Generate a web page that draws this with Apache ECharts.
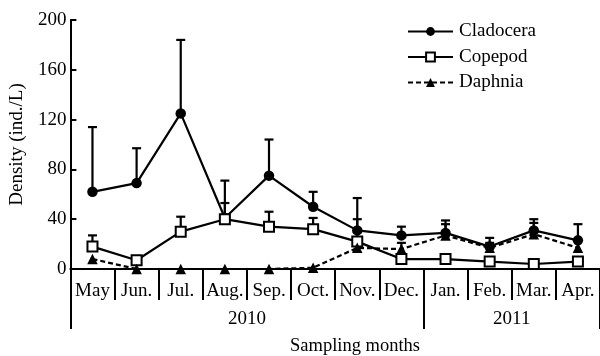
<!DOCTYPE html>
<html>
<head>
<meta charset="utf-8">
<script src="https://cdn.jsdelivr.net/npm/echarts@6/dist/echarts.min.js"></script>
<style>html,body{margin:0;padding:0;background:#fff;}#c{width:600px;height:356px;}</style>
</head>
<body>
<div id="c"></div>
<script>
const months = ['May','Jun.','Jul.','Aug.','Sep.','Oct.','Nov.','Dec.','Jan.','Feb.','Mar.','Apr.'];
const years = ['2010','2011'];
const monthsPerYear = [8, 4];
const yTicks = [0, 40, 80, 120, 160, 200];

const cladocera      = [62, 69, 125, 41, 75, 50, 31, 27, 29, 18, 31, 23];
const cladoceraUpper = [114, 97, 184, 71, 104, 62, 57, 34, 39, 25, 40, 36];
const copepod        = [18, 7, 30, 40, 34, 32, 22, 8, 8, 6, 4, 6];
const copepodUpper   = [27, null, 42, 53, 46, 41, 40, null, null, null, null, null];
const daphnia        = [8, 0, 0, 0, 0, 1, 17, 16, 27, 17, 28, 17];
const daphniaUpper   = [null, null, null, null, null, null, null, 21, 36, 21, 37, null];

const FONT = 'Liberation Serif';
const FS = 19;

// year boundaries / centres derived from month counts
const yearBounds = [0];
const yearCentres = [];
monthsPerYear.forEach((n) => {
  const s = yearBounds[yearBounds.length - 1];
  yearCentres.push(s + n / 2);
  yearBounds.push(s + n);
});

function errData(mean, upper) {
  const out = [];
  mean.forEach((m, i) => { if (upper[i] != null) out.push([i, m, upper[i]]); });
  return out;
}

function errSeries(mean, upper) {
  return {
    type: 'custom',
    xAxisIndex: 0,
    yAxisIndex: 0,
    z: 1,
    silent: true,
    data: errData(mean, upper),
    encode: { x: 0, y: [1, 2] },
    renderItem: function (params, api) {
      const p0 = api.coord([api.value(0), api.value(1)]);
      const p1 = api.coord([api.value(0), api.value(2)]);
      const hw = 4.5;
      return {
        type: 'group',
        children: [
          { type: 'line', shape: { x1: p0[0], y1: p0[1], x2: p1[0], y2: p1[1] }, style: { stroke: '#000', lineWidth: 2.2 } },
          { type: 'line', shape: { x1: p1[0] - hw, y1: p1[1], x2: p1[0] + hw, y2: p1[1] }, style: { stroke: '#000', lineWidth: 2.2 } }
        ]
      };
    }
  };
}

const chart = echarts.init(document.getElementById('c'), null, { renderer: 'canvas' });
chart.setOption({
  animation: false,
  backgroundColor: '#fff',
  textStyle: { fontFamily: FONT, color: '#000' },
  title: {
    text: 'Sampling months',
    left: 290,
    top: 337,
    padding: 0,
    textStyle: { fontFamily: FONT, fontSize: 18.5, fontWeight: 'normal', color: '#000' }
  },
  legend: {
    orient: 'vertical',
    left: 407,
    top: 22,
    padding: 0,
    itemWidth: 45,
    itemHeight: 11,
    itemGap: 6.5,
    textStyle: { fontFamily: FONT, fontSize: FS, color: '#000', padding: [0, 0, 0, 1] },
    data: ['Cladocera', 'Copepod', 'Daphnia']
  },
  grid: { left: 67, right: 0, top: 20, bottom: 87, containLabel: false },
  xAxis: [
    {
      type: 'category',
      data: months,
      boundaryGap: true,
      axisLine: { show: true, lineStyle: { color: '#000', width: 2 } },
      axisTick: { show: true, interval: 0, length: 31, lineStyle: { color: '#000', width: 2 } },
      axisLabel: { interval: 0, margin: 13, fontFamily: FONT, fontSize: FS, color: '#000' },
      splitLine: { show: false }
    },
    {
      type: 'value',
      position: 'bottom',
      offset: 30,
      min: 0,
      max: yearBounds[yearBounds.length - 1],
      axisLine: { show: false },
      axisTick: { show: true, customValues: yearBounds, length: 30, lineStyle: { color: '#000', width: 2 } },
      axisLabel: {
        show: true,
        customValues: yearCentres,
        margin: 11,
        fontFamily: FONT, fontSize: FS, color: '#000',
        formatter: function (v) { const i = yearCentres.indexOf(v); return i >= 0 ? years[i] : ''; }
      },
      splitLine: { show: false }
    }
  ],
  yAxis: {
    type: 'value',
    min: yTicks[0],
    max: yTicks[yTicks.length - 1],
    interval: yTicks[1] - yTicks[0],
    name: 'Density (ind./L)',
    nameLocation: 'middle',
    nameGap: 35,
    nameTextStyle: { fontFamily: FONT, fontSize: FS, color: '#000' },
    axisLine: { show: true, lineStyle: { color: '#000', width: 2 } },
    axisTick: { show: true, inside: true, length: 6, lineStyle: { color: '#000', width: 2 } },
    axisLabel: { margin: 4, fontFamily: FONT, fontSize: FS, color: '#000' },
    splitLine: { show: false }
  },
  series: [
    errSeries(cladocera, cladoceraUpper),
    errSeries(copepod, copepodUpper),
    errSeries(daphnia, daphniaUpper),
    {
      name: 'Cladocera', type: 'line', data: cladocera, z: 3,
      symbol: 'circle', symbolSize: 10.5,
      lineStyle: { color: '#000', width: 2.2 },
      itemStyle: { color: '#000', borderColor: '#000', borderWidth: 0 }
    },
    {
      name: 'Copepod', type: 'line', data: copepod, z: 4,
      symbol: 'rect', symbolSize: 10,
      lineStyle: { color: '#000', width: 2.2 },
      itemStyle: { color: '#fff', borderColor: '#000', borderWidth: 2 }
    },
    {
      name: 'Daphnia', type: 'line', data: daphnia, z: 5,
      symbol: 'triangle', symbolSize: 10.5,
      lineStyle: { color: '#000', width: 2.2, type: [5, 3] },
      itemStyle: { color: '#000', borderColor: '#000', borderWidth: 0 }
    }
  ]
});
</script>
</body>
</html>
